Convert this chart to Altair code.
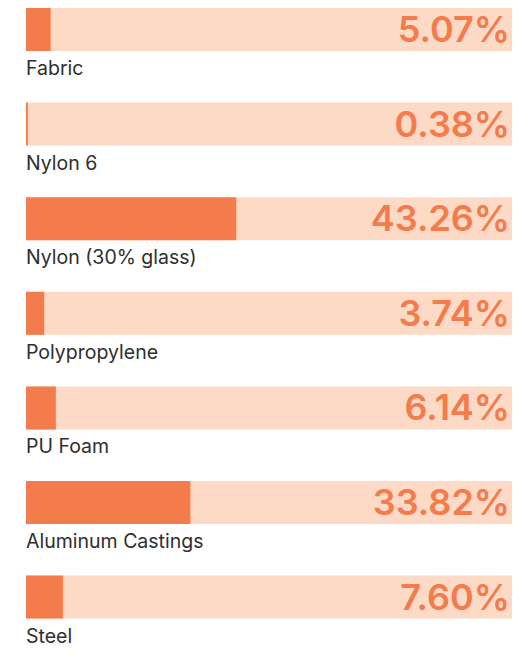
import altair as alt
import pandas as pd

materials = ["Fabric", "Nylon 6", "Nylon (30% glass)", "Polypropylene",
             "PU Foam", "Aluminum Castings", "Steel"]
shares = [5.07, 0.38, 43.26, 3.74, 6.14, 33.82, 7.60]
share_labels = ["5.07%", "0.38%", "43.26%", "3.74%", "6.14%", "33.82%", "7.60%"]

df = pd.DataFrame({"material": materials, "share": shares, "label": share_labels})
df["full"] = 100

ORANGE = "#F47B4B"
PEACH = "#FCDAC6"

y = alt.Y("material:N", sort=materials, axis=None,
          scale=alt.Scale(type="point", padding=0))
xs = alt.Scale(domain=[0, 100], nice=False, zero=True)

base = alt.Chart(df)

bg = base.mark_bar(color=PEACH, size=43).encode(
    x=alt.X("full:Q", scale=xs, axis=None), y=y)
fg = base.mark_bar(color=ORANGE, size=43).encode(
    x=alt.X("share:Q", scale=xs, axis=None), y=y)
pct = base.mark_text(align="right", baseline="alphabetic", dx=-2, dy=12.5,
                     font="Inter", fontSize=36, fontWeight=600, color=ORANGE).encode(
    x=alt.datum(100, scale=xs), y=y, text="label:N")
lab = base.mark_text(align="left", baseline="alphabetic", dx=0, dy=45.5,
                     font="Inter", fontSize=19.5, fontWeight=400, color="#2E2E2E").encode(
    x=alt.datum(0, scale=xs), y=y, text="material:N")

chart = alt.layer(bg, fg, pct, lab).properties(
    width=486, height=567.6,
    padding={"left": 18, "top": 21.5, "right": 0, "bottom": 49.9},
    autosize=alt.AutoSizeParams(type="none"),
).configure_view(stroke=None)

chart.save("out.html", embed_options={"renderer": "svg", "actions": False})
